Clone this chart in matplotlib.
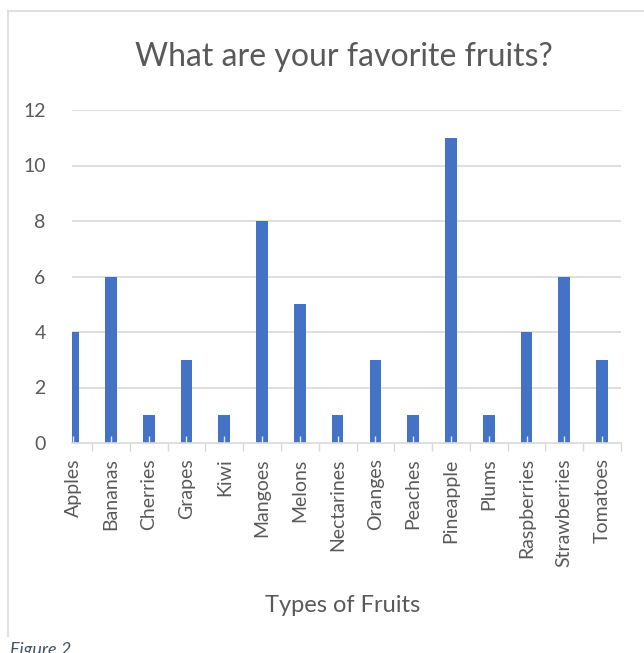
import matplotlib
matplotlib.use("Agg")
import matplotlib.pyplot as plt
from matplotlib.lines import Line2D
import numpy as np

fruits = ["Apples", "Bananas", "Cherries", "Grapes", "Kiwi", "Mangoes", "Melons",
          "Nectarines", "Oranges", "Peaches", "Pineapple", "Plums", "Raspberries",
          "Strawberries", "Tomatoes"]
counts = [4, 6, 1, 3, 1, 8, 5, 1, 3, 1, 11, 1, 4, 6, 3]
yticks = [0, 2, 4, 6, 8, 10, 12]

plt.rcParams['font.family'] = ['Lato', 'DejaVu Sans']
TXT = '#595959'
GRID = '#d9d9d9'

fig = plt.figure(figsize=(6.44, 6.53), dpi=100)
W, H = 644, 653
ax = fig.add_axes([72 / W, 1 - 443 / H, (621 - 72) / W, (443 - 110) / H])

x = np.arange(len(fruits))
ax.bar(x, counts, width=0.31, color='#4472c4', zorder=1)
for t in yticks[1:]:
    ax.axhline(t, color=GRID, lw=1.2, zorder=0.5)

ax.set_xlim(-0.03, 14.11)
ax.set_ylim(0, 12)
ax.set_yticks(yticks)
ax.set_xticks(x)
ax.set_xticklabels(fruits, rotation=90, fontsize=14, color=TXT)
ax.set_xticks(x + 0.5, minor=True)
ax.tick_params(axis='x', which='major', direction='in', length=5, color='#e6eaf4', width=1, pad=11)
ax.tick_params(axis='x', which='minor', direction='out', length=6, color=GRID, width=1)
ax.tick_params(axis='y', length=0, pad=19, labelsize=14, labelcolor=TXT)

for s in ['top', 'right', 'left']:
    ax.spines[s].set_visible(False)
ax.spines['bottom'].set_color(GRID)
ax.spines['bottom'].set_linewidth(1.2)

fig.text(344 / W, 1 - 57 / H, "What are your favorite fruits?", ha='center', va='center',
         fontsize=23, color=TXT)
fig.text(343 / W, 1 - 606 / H, "Types of Fruits", ha='center', va='center',
         fontsize=17, color=TXT)
fig.text(10 / W, 1 - 650 / H, "Figure 2", ha='left', va='center', fontsize=13,
         style='italic', color='#44546a')

# frame (top and left edges)
fig.add_artist(Line2D([8 / W, 1.0], [1 - 11 / H, 1 - 11 / H], color=GRID, lw=1.2,
                      transform=fig.transFigure))
fig.add_artist(Line2D([8 / W, 8 / W], [1 - 11 / H, 1 - 636 / H], color=GRID, lw=1.2,
                      transform=fig.transFigure))

fig.savefig("out.png", dpi=100)
